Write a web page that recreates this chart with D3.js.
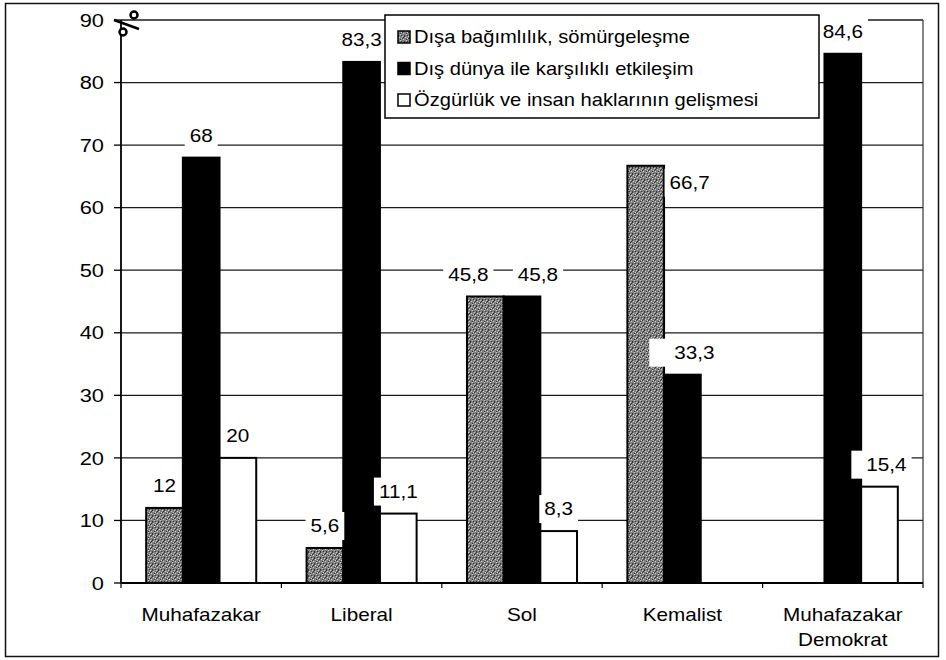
<!DOCTYPE html>
<html>
<head>
<meta charset="utf-8">
<script src="https://cdn.jsdelivr.net/npm/d3@7"></script>
<style>
  body { margin: 0; background: #fff; }
  text { font-family: "Liberation Sans", Arial, sans-serif; fill: #000; }
</style>
</head>
<body>
<div id="chart"></div>
<script>
// grouped bar chart, three series per category

var categories = ["Muhafazakar", "Liberal", "Sol", "Kemalist", "Muhafazakar Demokrat"];
var seriesNames = [
	"Dışa bağımlılık, sömürgeleşme",
	"Dış dünya ile karşılıklı etkileşim",
	"Özgürlük ve insan haklarının gelişmesi"
];
var disaBagimlilik = [12, 5.6, 45.8, 66.7, null];
var disDunya = [68, 83.3, 45.8, 33.3, 84.6];
var ozgurluk = [20, 11.1, 8.3, null, 15.4];
var yTicks = [0, 10, 20, 30, 40, 50, 60, 70, 80, 90];

var width = 946, height = 660;
var stretch = 1.15; // the scan is wider than it is tall

var svg = d3.select("#chart").append("svg")
	.attr("width", width).attr("height", height);

// stipple fill for the grey series
var defs = svg.append("defs");
var pat = defs.append("pattern").attr("id", "stip")
	.attr("width", 6).attr("height", 6).attr("patternUnits", "userSpaceOnUse");
pat.append("rect").attr("width", 6).attr("height", 6).attr("fill", "#808080");
[[0,0],[3,1],[1,3],[4,4],[5,2]].forEach(function(p) {
	pat.append("rect").attr("x", p[0]).attr("y", p[1]).attr("width", 1).attr("height", 1).attr("fill", "#d0d0d0");
});
[[2,0],[0,2],[4,3],[2,5],[5,5],[1,1]].forEach(function(p) {
	pat.append("rect").attr("x", p[0]).attr("y", p[1]).attr("width", 1).attr("height", 1).attr("fill", "#333");
});

var fills = ["url(#stip)", "#000", "#fff"];
var seriesValues = [disaBagimlilik, disDunya, ozgurluk];

// stretched text helper
function txt(parent, x, y, str, anchor, size) {
	var g = parent.append("g")
		.attr("transform", "translate(" + x + "," + y + ") scale(" + stretch + ",1)");
	var t = g.append("text")
		.attr("text-anchor", anchor || "middle")
		.attr("dy", "0.35em")
		.style("font-size", (size || 18) + "px")
		.text(str);
	return t;
}

// outer frame
svg.append("rect").attr("x", 5.5).attr("y", 3.5).attr("width", 933).attr("height", 653)
	.attr("fill", "none").attr("stroke", "#111").attr("stroke-width", 1.5);

var plot = { left: 121, right: 923, top: 20, bottom: 583 };

var x0 = d3.scaleBand().domain(categories).range([plot.left, plot.right]);
var bw = x0.bandwidth();
var x1 = d3.scaleBand().domain([0, 1, 2]).range([bw * 0.157, bw * 0.843]);
var y = d3.scaleLinear().domain([0, 90]).range([plot.bottom, plot.top]);

// gridlines
svg.append("g").selectAll("line").data(yTicks.slice(1)).enter().append("line")
	.attr("x1", plot.left).attr("x2", plot.right)
	.attr("y1", function(d) { return y(d); }).attr("y2", function(d) { return y(d); })
	.attr("stroke", "#1a1a1a").attr("stroke-width", 1.3);

// right border of plot area
svg.append("line").attr("x1", plot.right).attr("x2", plot.right)
	.attr("y1", plot.top).attr("y2", plot.bottom)
	.attr("stroke", "#333").attr("stroke-width", 1.2);

// bars
var rows = [];
categories.forEach(function(c, i) {
	seriesValues.forEach(function(vals, s) {
		if (vals[i] != null) rows.push({ cat: c, i: i, s: s, v: vals[i] });
	});
});

svg.append("g").selectAll("rect").data(rows).enter().append("rect")
	.attr("x", function(d) { return x0(d.cat) + x1(d.s); })
	.attr("y", function(d) { return y(d.v); })
	.attr("width", x1.bandwidth())
	.attr("height", function(d) { return y(0) - y(d.v); })
	.attr("fill", function(d) { return fills[d.s]; })
	.attr("stroke", "#000").attr("stroke-width", 2);

// y axis
var yAxis = svg.append("g");
yAxis.append("line").attr("x1", plot.left).attr("x2", plot.left)
	.attr("y1", plot.top).attr("y2", plot.bottom).attr("stroke", "#000").attr("stroke-width", 1.8);
yTicks.forEach(function(t) {
	yAxis.append("line").attr("x1", plot.left - 7).attr("x2", plot.left)
		.attr("y1", y(t)).attr("y2", y(t)).attr("stroke", "#000").attr("stroke-width", 1.3);
	txt(yAxis, 104, y(t), String(t), "end", 19);
});

// x axis
svg.append("line").attr("x1", plot.left).attr("x2", plot.right)
	.attr("y1", plot.bottom).attr("y2", plot.bottom).attr("stroke", "#000").attr("stroke-width", 1.8);
x0.domain().concat([null]).forEach(function(c) {
	var xp = c == null ? plot.right : x0(c);
	svg.append("line").attr("x1", xp).attr("x2", xp)
		.attr("y1", plot.bottom).attr("y2", plot.bottom + 5).attr("stroke", "#000").attr("stroke-width", 1.2);
});
categories.forEach(function(c) {
	var words = c === "Muhafazakar Demokrat" ? ["Muhafazakar", "Demokrat"] : [c];
	words.forEach(function(w, k) {
		txt(svg, x0(c) + bw / 2, 615 + k * 25, w, "middle", 18);
	});
});

// percent mark at the top of the axis
var pct = svg.append("g").attr("stroke", "#000").attr("stroke-width", 2.5);
pct.append("line").attr("x1", 114).attr("y1", 20).attr("x2", 139).attr("y2", 29);
pct.append("circle").attr("cx", 134).attr("cy", 15).attr("r", 3.5).attr("fill", "#fff");
pct.append("circle").attr("cx", 123).attr("cy", 32).attr("r", 3.5).attr("fill", "#fff");

// data labels with white boxes; shift = [dx, dy, extra box on the left]
var labelShift = {
	"0-2": [-17, 0, 0], "1-2": [16, 0, 0],
	"0-3": [44, 39, 0], "1-3": [12, 0, 20],
	"2-4": [7, 0, 10]
};
var labels = svg.append("g");
rows.forEach(function(d) {
	var sh = labelShift[d.s + "-" + d.i] || [0, 0, 0];
	var cx = x0(d.cat) + x1(d.s) + x1.bandwidth() / 2 + sh[0];
	var cy = y(d.v) - 22 + sh[1];
	var g = labels.append("g");
	var t = txt(g, cx, cy, String(d.v).replace(".", ","), "middle", 18);
	var w = t.node().getComputedTextLength() * stretch;
	g.insert("rect", ":first-child")
		.attr("x", cx - w / 2 - 5 - sh[2]).attr("y", cy - 14)
		.attr("width", w + 10 + sh[2]).attr("height", 28)
		.attr("fill", "#fff");
});

// legend
var leg = svg.append("g");
leg.append("rect").attr("x", 385).attr("y", 15).attr("width", 434).attr("height", 103)
	.attr("fill", "#fff").attr("stroke", "#000").attr("stroke-width", 1.5);
seriesNames.forEach(function(name, s) {
	var ly = 37 + s * 31.5;
	leg.append("rect").attr("x", 398).attr("y", ly - 6).attr("width", 12).attr("height", 12)
		.attr("fill", fills[s]).attr("stroke", "#000").attr("stroke-width", 1.5);
	txt(leg, 414, ly, name, "start", 17.5);
});
</script>
</body>
</html>
